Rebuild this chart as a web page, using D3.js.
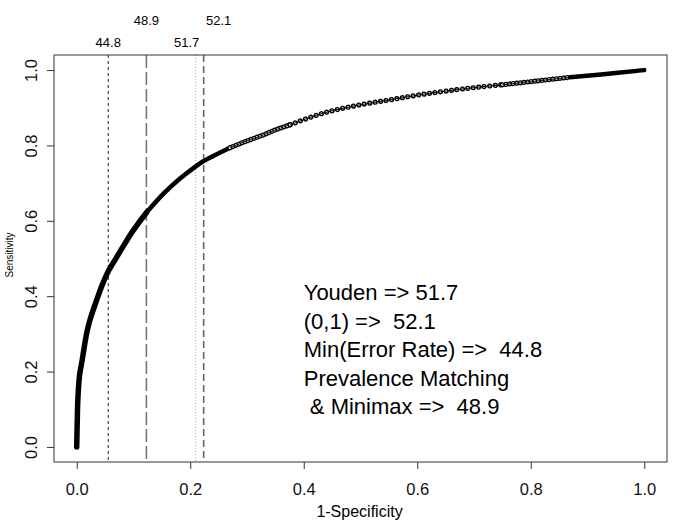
<!DOCTYPE html>
<html>
<head>
<meta charset="utf-8">
<script src="https://cdn.jsdelivr.net/npm/d3@7"></script>
<style>
  body { margin: 0; background: #fff; }
  svg { display: block; font-family: "Liberation Sans", Arial, sans-serif; }
  text { white-space: pre; }
</style>
</head>
<body>
<div id="roc-chart"></div>
<script>
// ROC points (1-specificity, sensitivity)
const fpr = [0, 0.001, 0.002, 0.005, 0.009, 0.013, 0.018, 0.024, 0.035, 0.045,
  0.057, 0.071, 0.081, 0.094, 0.107, 0.123, 0.153, 0.182, 0.211, 0.223,
  0.27, 0.3, 0.329, 0.346, 0.376, 0.435, 0.493, 0.552, 0.611, 0.67,
  0.71, 0.75, 0.81, 0.869, 0.928, 0.987, 1];
const tpr = [0, 0.07, 0.125, 0.19, 0.225, 0.262, 0.305, 0.34, 0.389, 0.43,
  0.47, 0.505, 0.53, 0.562, 0.59, 0.622, 0.672, 0.712, 0.746, 0.758,
  0.794, 0.812, 0.828, 0.839, 0.855, 0.886, 0.906, 0.921, 0.936, 0.948,
  0.955, 0.961, 0.971, 0.981, 0.989, 0.998, 1];

// cut-offs marked with vertical lines
const cutLabels = ["44.8", "48.9", "51.7", "52.1"];
const cutFpr = [0.0556, 0.1228, 0.2095, 0.2237];

const xTicks = [0, 0.2, 0.4, 0.6, 0.8, 1.0];
const yTicks = [0, 0.2, 0.4, 0.6, 0.8, 1.0];

const notes = ["Youden => 51.7", "(0,1) =>  52.1", "Min(Error Rate) =>  44.8",
  "Prevalence Matching", " & Minimax =>  48.9"];

const W = 685, H = 529;
const box = { left: 54, top: 55, right: 667, bottom: 462 };

const svg = d3.select("#roc-chart").append("svg")
  .attr("width", W)
  .attr("height", H);

const x = d3.scaleLinear().domain([-0.04, 1.04]).range([box.left, box.right]);
const y = d3.scaleLinear().domain([-0.04, 1.04]).range([box.bottom, box.top]);

const axisColor = "#333";

// x axis
const xAxis = svg.append("g")
  .attr("transform", `translate(0,${box.bottom})`)
  .call(d3.axisBottom(x).tickValues(xTicks).tickSize(7).tickPadding(14)
    .tickFormat(d3.format(".1f")));
xAxis.select(".domain").remove();
xAxis.selectAll("line").attr("stroke", axisColor);
xAxis.selectAll("text")
  .attr("fill", "#111")
  .style("font-size", "16.5px")
  .style("font-family", "Liberation Sans, Arial, sans-serif");

// y axis, labels turned like R does
const yAxis = svg.append("g")
  .attr("transform", `translate(${box.left},0)`)
  .call(d3.axisLeft(y).tickValues(yTicks).tickSize(7)
    .tickFormat(d3.format(".1f")));
yAxis.select(".domain").remove();
yAxis.selectAll("line").attr("stroke", axisColor);
yAxis.selectAll("text")
  .attr("transform", "rotate(-90)")
  .attr("x", 0)
  .attr("y", -23)
  .attr("dy", "0.35em")
  .attr("text-anchor", "middle")
  .attr("fill", "#111")
  .style("font-size", "16.5px")
  .style("font-family", "Liberation Sans, Arial, sans-serif");

// axis titles
svg.append("text")
  .attr("x", (box.left + box.right) / 2 - 1)
  .attr("y", 517)
  .attr("text-anchor", "middle")
  .style("font-size", "16px")
  .text("1-Specificity");

svg.append("text")
  .attr("transform", "translate(13,255) rotate(-90)")
  .attr("text-anchor", "middle")
  .style("font-size", "10px")
  .text("Sensitivity");

// cut-off lines
const lineStyles = [
  { color: "#222", width: 1, dash: "3,3" },
  { color: "#777", width: 1.6, dash: "13,4" },
  { color: "#aaa", width: 1, dash: "1,2" },
  { color: "#666", width: 1.6, dash: "7,4" }
];
const labelPos = [
  { dx: 0, y: 47 },
  { dx: 0, y: 25 },
  { dx: -9, y: 47 },
  { dx: 15, y: 25 }
];

svg.append("g")
  .selectAll("line")
  .data(cutFpr)
  .enter()
  .append("line")
  .attr("x1", d => x(d))
  .attr("x2", d => x(d))
  .attr("y1", box.top)
  .attr("y2", box.bottom)
  .attr("stroke", (d, i) => lineStyles[i].color)
  .attr("stroke-width", (d, i) => lineStyles[i].width)
  .attr("stroke-dasharray", (d, i) => lineStyles[i].dash);

svg.append("g")
  .selectAll("text")
  .data(cutLabels)
  .enter()
  .append("text")
  .attr("x", (d, i) => x(cutFpr[i]) + labelPos[i].dx)
  .attr("y", (d, i) => labelPos[i].y)
  .attr("text-anchor", "middle")
  .style("font-size", "13px")
  .text(d => d);

// ROC curve: drawn in pieces, dense parts solid, sparse parts as a chain of rings
const points = fpr.map((f, i) => ({ f: f, t: tpr[i] }));
const line = d3.line()
  .x(d => x(d.f))
  .y(d => y(d.t))
  .curve(d3.curveCatmullRom.alpha(0.5));

const pieces = [
  { from: 0, to: 15, solid: 5.5 },
  { from: 15, to: 20, solid: 4.6 },
  { from: 20, to: 24, gap: 3.2 },
  { from: 24, to: 31, gap: 5.5 },
  { from: 31, to: 33, gap: 3.6 },
  { from: 33, to: 36, solid: 4.4 }
];

const curve = svg.append("g").attr("class", "roc");
pieces.forEach(p => {
  const seg = points.slice(p.from, p.to + 1);
  if (p.solid) {
    curve.append("path")
      .attr("d", line(seg))
      .attr("fill", "none")
      .attr("stroke", "#000")
      .attr("stroke-width", p.solid)
      .attr("stroke-linecap", "round")
      .attr("stroke-linejoin", "round");
  } else {
    curve.append("path")
      .attr("d", line(seg))
      .attr("fill", "none")
      .attr("stroke", "#000")
      .attr("stroke-width", 5.2)
      .attr("stroke-linecap", "round")
      .attr("stroke-dasharray", `0.01,${p.gap}`);
    curve.append("path")
      .attr("d", line(seg))
      .attr("fill", "none")
      .attr("stroke", "#f2f2f2")
      .attr("stroke-width", 2.5)
      .attr("stroke-linecap", "round")
      .attr("stroke-dasharray", `0.01,${p.gap}`);
    curve.append("path")
      .attr("d", line(seg))
      .attr("fill", "none")
      .attr("stroke", "#000")
      .attr("stroke-width", 1);
  }
});

// plot box
svg.append("rect")
  .attr("x", box.left)
  .attr("y", box.top)
  .attr("width", box.right - box.left)
  .attr("height", box.bottom - box.top)
  .attr("fill", "none")
  .attr("stroke", axisColor)
  .attr("stroke-width", 1);

// annotation block
const notesY = y(0.258) - (notes.length - 1) / 2 * 28.5;
svg.append("g")
  .selectAll("text")
  .data(notes)
  .enter()
  .append("text")
  .attr("x", x(0.4))
  .attr("y", (d, i) => notesY + i * 28.5)
  .attr("dy", "0.35em")
  .style("font-size", "22px")
  .text(d => d);
</script>
</body>
</html>
